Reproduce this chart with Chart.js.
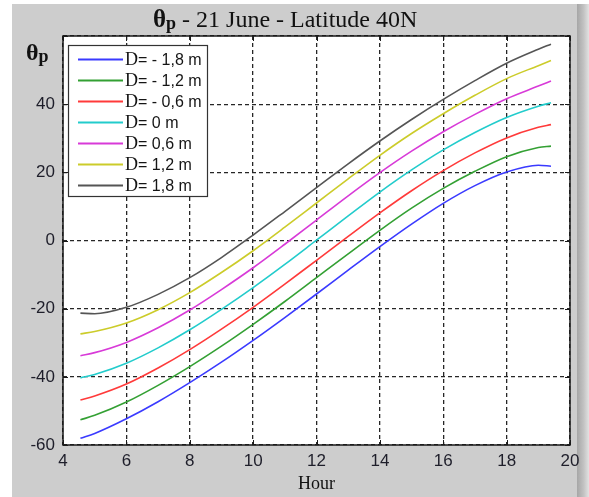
<!DOCTYPE html>
<html><head><meta charset="utf-8">
<script src="https://cdn.jsdelivr.net/npm/chart.js@4.4.1/dist/chart.umd.min.js"></script>
<style>
html,body{margin:0;padding:0;background:#fff;}
#wrap{position:relative;width:589px;height:497px;overflow:hidden;}
#bg{position:absolute;left:12px;top:4px;width:566px;height:493px;background:#cdcdcd;}
#edge{position:absolute;left:577px;top:4px;width:12px;height:493px;background:linear-gradient(to right,#a6a6a6,#c2c2c2 55%,#e2e2e2);}
canvas{position:absolute;left:0;top:0;}
</style></head><body>
<div id="wrap"><div id="bg"></div><div id="edge"></div><canvas id="c" width="589" height="497"></canvas></div>
<script>
// ---- data ----
const hours = [4.55, 5, 6, 7, 8, 9, 10, 11, 12, 13, 14, 15, 16, 17, 18, 19, 19.4];
const dM18 = [-58.0, -56.6, -52.3, -47.3, -41.7, -35.7, -29.3, -22.6, -15.7, -8.7, -1.8, 4.8, 10.9, 16.1, 20.1, 22.1, 21.8];
const dM12 = [-52.6, -51.3, -47.4, -42.5, -37.0, -31.0, -24.6, -17.9, -10.9, -3.9, 3.0, 9.5, 15.3, 20.3, 24.6, 27.3, 27.7];
const dM06 = [-46.8, -45.6, -42.1, -37.4, -32.0, -26.0, -19.6, -12.8, -5.8, 1.2, 8.1, 14.6, 20.5, 25.7, 30.1, 33.2, 34.0];
const d00  = [-40.3, -39.3, -36.0, -31.5, -26.2, -20.2, -13.8, -7.0, 0.1, 7.2, 14.2, 20.7, 26.6, 31.7, 36.1, 39.4, 40.4];
const dP06 = [-33.8, -32.9, -29.9, -25.6, -20.4, -14.4, -8.0, -1.1, 6.0, 13.1, 19.9, 26.2, 31.9, 37.0, 41.6, 45.3, 46.8];
const dP12 = [-27.4, -26.7, -24.2, -20.3, -15.3, -9.4, -3.0, 3.9, 11.0, 18.1, 25.0, 31.4, 37.2, 42.6, 47.5, 51.3, 52.8];
const dP18 = [-21.3, -21.5, -19.6, -15.8, -10.9, -5.0, 1.6, 8.5, 15.5, 22.5, 29.2, 35.5, 41.4, 46.9, 52.0, 56.1, 57.6];
const seriesLabels = ['D= - 1,8 m', 'D= - 1,2 m', 'D= - 0,6 m', 'D= 0 m', 'D= 0,6 m', 'D= 1,2 m', 'D= 1,8 m'];
const seriesData = [dM18, dM12, dM06, d00, dP06, dP12, dP18];
const seriesColors = ['#3a3aff', '#33a033', '#ff3a3a', '#22cccc', '#d83ad8', '#cccc2a', '#555555'];
const xTicks = [4, 6, 8, 10, 12, 14, 16, 18, 20];
const yTicks = [-60, -40, -20, 0, 20, 40, 60];
const titleRest = ' - 21 June - Latitude 40N';
const xTitle = 'Hour';

const datasets = seriesData.map((arr, i) => ({
  label: seriesLabels[i],
  data: arr.map((v, j) => ({x: hours[j], y: v})),
  borderColor: seriesColors[i],
  backgroundColor: seriesColors[i],
  borderWidth: 1.6,
  pointRadius: 0,
  cubicInterpolationMode: 'monotone',
  fill: false
}));

const SANS = '"Liberation Sans", Arial, sans-serif';
const SERIF = '"Liberation Serif", "Times New Roman", serif';

const deco = {
  id: 'deco',
  beforeDraw(chart) {
    const {ctx, chartArea: a} = chart;
    ctx.save();
    ctx.fillStyle = '#fff';
    ctx.fillRect(a.left, a.top, a.right - a.left, a.bottom - a.top);
    ctx.restore();
  },
  afterDraw(chart) {
    const {ctx, chartArea: a, scales} = chart;
    ctx.save();
    // frame
    ctx.strokeStyle = '#1a1a1a';
    ctx.lineWidth = 1.5;
    ctx.strokeRect(a.left, a.top, a.right - a.left, a.bottom - a.top);
    // inward ticks
    ctx.lineWidth = 1;
    ctx.beginPath();
    xTicks.forEach(t => {
      const px = Math.round(scales.x.getPixelForValue(t)) + 0.5;
      ctx.moveTo(px, a.bottom); ctx.lineTo(px, a.bottom - 5);
      ctx.moveTo(px, a.top); ctx.lineTo(px, a.top + 5);
    });
    yTicks.forEach(t => {
      const py = Math.round(scales.y.getPixelForValue(t)) + 0.5;
      ctx.moveTo(a.left, py); ctx.lineTo(a.left + 5, py);
      ctx.moveTo(a.right, py); ctx.lineTo(a.right - 5, py);
    });
    ctx.stroke();
    // legend
    const lx = 68, ly = 45, lw = 139, lh = 151;
    ctx.fillStyle = '#fff';
    ctx.fillRect(lx, ly, lw, lh);
    ctx.strokeStyle = '#333';
    ctx.lineWidth = 1.2;
    ctx.strokeRect(lx + 0.5, ly + 0.5, lw, lh);
    seriesLabels.forEach((lab, i) => {
      const y = 59.5 + i * 21;
      ctx.strokeStyle = seriesColors[i];
      ctx.lineWidth = 2;
      ctx.beginPath(); ctx.moveTo(78, y); ctx.lineTo(123, y); ctx.stroke();
      ctx.fillStyle = '#151515';
      ctx.textBaseline = 'middle';
      ctx.textAlign = 'left';
      ctx.font = '18px ' + SERIF;
      ctx.fillText(lab[0], 125, y + 1);
      const w = ctx.measureText(lab[0]).width;
      ctx.font = '16px ' + SANS;
      ctx.fillText(lab.slice(1), 125 + w, y + 1);
    });
    // title
    ctx.fillStyle = '#111';
    ctx.textBaseline = 'alphabetic';
    ctx.textAlign = 'left';
    let x = 153;
    ctx.font = 'bold 25px ' + SERIF;
    ctx.fillText('θ', x, 27); x += ctx.measureText('θ').width;
    ctx.font = 'bold 18px ' + SERIF;
    ctx.fillText('p', x, 29); x += ctx.measureText('p').width;
    ctx.font = '24px ' + SERIF;
    ctx.fillText(titleRest, x, 27);
    // y label
    x = 26;
    ctx.font = 'bold 24px ' + SERIF;
    ctx.fillText('θ', x, 60); x += ctx.measureText('θ').width;
    ctx.font = 'bold 18px ' + SERIF;
    ctx.fillText('p', x, 62);
    ctx.restore();
  }
};

new Chart(document.getElementById('c'), {
  type: 'line',
  data: {datasets},
  options: {
    responsive: false,
    animation: false,
    layout: {padding: {left: 0, right: 19, top: 36, bottom: 0}},
    plugins: {legend: {display: false}, title: {display: false}, tooltip: {enabled: false}},
    scales: {
      x: {
        type: 'linear', min: 4, max: 20,
        afterBuildTicks: s => { s.ticks = xTicks.map(v => ({value: v})); },
        afterFit: s => { s.height = 52; },
        grid: {color: '#262626', lineWidth: 1.3, drawTicks: false},
        border: {display: false, dash: [4, 3]},
        ticks: {color: '#1e1e2a', font: {family: SANS, size: 17}, padding: 6, maxRotation: 0, autoSkip: false},
        title: {display: true, text: xTitle, color: '#111', font: {family: SERIF, size: 18}, padding: {top: 0, bottom: 2}}
      },
      y: {
        type: 'linear', min: -60, max: 60,
        afterBuildTicks: s => { s.ticks = yTicks.map(v => ({value: v})); },
        afterFit: s => { s.width = 63; },
        grid: {color: '#262626', lineWidth: 1.3, drawTicks: false},
        border: {display: false, dash: [4, 3]},
        ticks: {color: '#1e1e2a', font: {family: SANS, size: 17}, padding: 8,
          callback: v => (v === 60 ? '' : String(v))}
      }
    }
  },
  plugins: [deco]
});
</script>
</body></html>
